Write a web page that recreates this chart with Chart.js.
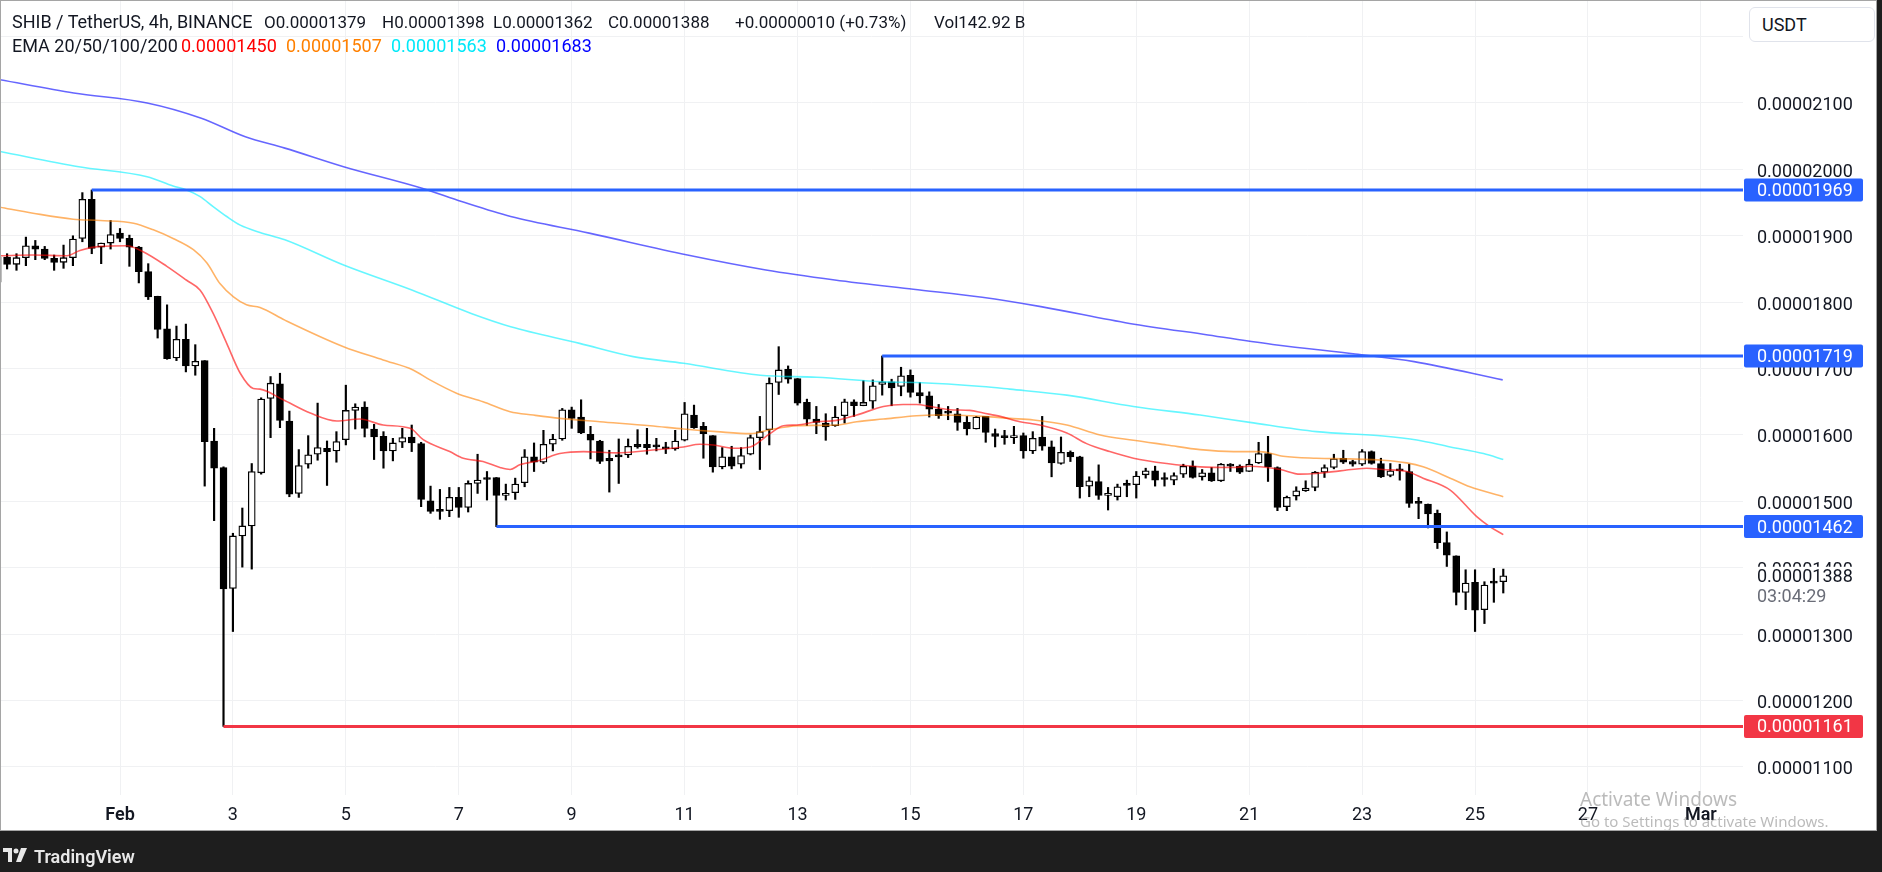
<!DOCTYPE html>
<html>
<head>
<meta charset="utf-8">
<script src="https://cdn.jsdelivr.net/npm/chart.js@4.4.1/dist/chart.umd.min.js"></script>
<style>
  html, body { margin: 0; padding: 0; width: 1882px; height: 872px; overflow: hidden; background: #1e1e1e; font-family: Roboto, sans-serif; }
  #panel { position: absolute; left: 0; top: 0; width: 1877px; height: 831px; background: #fff; }
  #chart { position: absolute; left: 0; top: 0; }
  #frame { position: absolute; left: 0; top: 0; width: 1877px; height: 831px; box-sizing: border-box; border: 1px solid #a5a5a5; pointer-events: none; }
  .hd { position: absolute; font-size: 18px; line-height: 22px; color: #131722; white-space: nowrap; }
  .sm { font-size: 17px; }
  #usdt { position: absolute; left: 1749px; top: 7px; width: 126px; height: 35px; box-sizing: border-box; border: 1px solid #e0e3eb; border-radius: 6px; background: #fff; font-size: 18px; line-height: 33px; color: #131722; padding-left: 12px; }
  #footer { position: absolute; left: 0; top: 831px; width: 1882px; height: 41px; background: #1e1e1e; }
  #tvText { position: absolute; left: 34px; top: 15px; color: #e8e8e8; font-size: 18px; font-weight: 600; line-height: 22px; }
  .win { position: absolute; color: rgba(120,120,120,0.5); font-family: "Noto Sans", sans-serif; white-space: nowrap; }
</style>
</head>
<body>
<div id="panel"></div>
<canvas id="chart" width="1877" height="831"></canvas>

<div class="hd" style="left:12px;top:11px">SHIB / TetherUS, 4h, BINANCE</div>
<div class="hd sm" style="left:264px;top:11px">O0.00001379</div>
<div class="hd sm" style="left:382px;top:11px">H0.00001398</div>
<div class="hd sm" style="left:493px;top:11px">L0.00001362</div>
<div class="hd sm" style="left:608px;top:11px">C0.00001388</div>
<div class="hd sm" style="left:735px;top:11px">+0.00000010 (+0.73%)</div>
<div class="hd sm" style="left:934px;top:11px">Vol142.92 B</div>
<div class="hd" style="left:12px;top:35px">EMA 20/50/100/200</div>
<div class="hd" style="left:181px;top:35px;color:#ff0000">0.00001450</div>
<div class="hd" style="left:286px;top:35px;color:#ff8000">0.00001507</div>
<div class="hd" style="left:391px;top:35px;color:#00e8f8">0.00001563</div>
<div class="hd" style="left:496px;top:35px;color:#0000ff">0.00001683</div>

<div id="usdt">USDT</div>

<div class="win" style="left:1580px;top:786px;font-size:19px">Activate Windows</div>
<div class="win" style="left:1580px;top:811px;font-size:15px">Go to Settings to activate Windows.</div>

<div id="frame"></div>
<div id="footer">
  <svg style="position:absolute;left:3px;top:17px" width="26" height="14" viewBox="0 0 26 14">
    <path d="M0 0h9v14H5V4H0z" fill="#e8e8e8"/>
    <circle cx="13" cy="3" r="2.5" fill="#e8e8e8"/>
    <path d="M18 0h6l-6 14h-5z" fill="#e8e8e8"/>
  </svg>
  <div id="tvText">TradingView</div>
</div>

<script>
// 4h candles, prices in units of 0.00000001 USDT, first bar = Jan 29 20:00
const FIRST_BAR = -1 - 1 / 6;   // day number, Feb 1 00:00 = 1
const BAR_DAYS = 1 / 6;

const opens = [1830,
  1868, 1857, 1867, 1885, 1880, 1866, 1860, 1867, 1896, 1955,
  1883, 1889, 1904, 1896, 1883, 1846, 1809, 1760, 1716, 1744,
  1704, 1712, 1591, 1551, 1369, 1448, 1463, 1543, 1655, 1677,
  1621, 1512, 1556, 1571, 1580, 1576, 1593, 1637, 1642, 1609,
  1598, 1576, 1589, 1597, 1587, 1501, 1487, 1486, 1506, 1491,
  1527, 1536, 1536, 1509, 1513, 1528, 1567, 1559, 1586, 1594,
  1638, 1627, 1601, 1591, 1565, 1570, 1570, 1586, 1586, 1583,
  1581, 1579, 1592, 1630, 1613, 1599, 1552, 1567, 1556, 1571,
  1596, 1608, 1679, 1699, 1685, 1649, 1624, 1618, 1614, 1629,
  1650, 1644, 1651, 1676, 1680, 1673, 1690, 1664, 1659, 1639,
  1635, 1632, 1619, 1609, 1628, 1602, 1598, 1596, 1599, 1576,
  1597, 1582, 1557, 1574, 1567, 1523, 1530, 1509, 1507, 1525,
  1525, 1540, 1546, 1535, 1532, 1541, 1553, 1537, 1543, 1531,
  1554, 1553, 1545, 1558, 1572, 1551, 1492, 1508, 1516, 1521,
  1544, 1551, 1565, 1560, 1556, 1575, 1557, 1539, 1547, 1545,
  1498, 1496, 1482, 1438, 1418, 1363, 1378, 1337, 1378, 1379];

const highs = [1872,
  1873, 1873, 1898, 1893, 1884, 1871, 1886, 1900, 1965, 1969,
  1889, 1923, 1911, 1901, 1884, 1858, 1809, 1796, 1764, 1767,
  1736, 1712, 1610, 1552, 1452, 1490, 1557, 1656, 1688, 1693,
  1636, 1578, 1599, 1648, 1591, 1605, 1675, 1647, 1650, 1616,
  1605, 1595, 1610, 1615, 1589, 1523, 1518, 1521, 1521, 1531,
  1571, 1545, 1536, 1526, 1535, 1578, 1588, 1607, 1601, 1640,
  1642, 1653, 1613, 1592, 1577, 1594, 1594, 1608, 1610, 1595,
  1589, 1607, 1649, 1645, 1619, 1599, 1581, 1583, 1581, 1600,
  1628, 1686, 1733, 1704, 1685, 1654, 1643, 1632, 1643, 1654,
  1653, 1682, 1683, 1719, 1684, 1702, 1698, 1679, 1665, 1646,
  1643, 1640, 1628, 1628, 1628, 1609, 1607, 1613, 1603, 1605,
  1628, 1591, 1597, 1576, 1568, 1537, 1555, 1521, 1526, 1532,
  1545, 1550, 1553, 1543, 1543, 1556, 1561, 1548, 1551, 1557,
  1557, 1555, 1563, 1589, 1598, 1552, 1508, 1522, 1531, 1545,
  1555, 1571, 1577, 1562, 1578, 1576, 1565, 1557, 1556, 1556,
  1506, 1496, 1487, 1454, 1418, 1397, 1397, 1379, 1399, 1398];

const lows = [1826,
  1850, 1848, 1855, 1864, 1864, 1848, 1851, 1855, 1891, 1873,
  1858, 1880, 1891, 1854, 1829, 1804, 1746, 1714, 1712, 1695,
  1690, 1523, 1471, 1161, 1304, 1401, 1398, 1541, 1596, 1611,
  1507, 1506, 1550, 1562, 1524, 1559, 1585, 1609, 1597, 1563,
  1550, 1561, 1581, 1575, 1492, 1482, 1473, 1477, 1476, 1484,
  1512, 1502, 1462, 1502, 1503, 1522, 1545, 1557, 1576, 1592,
  1610, 1602, 1564, 1557, 1514, 1527, 1566, 1580, 1571, 1576,
  1572, 1577, 1591, 1610, 1565, 1544, 1549, 1549, 1550, 1570,
  1548, 1585, 1661, 1678, 1645, 1614, 1602, 1592, 1613, 1618,
  1628, 1644, 1640, 1660, 1644, 1659, 1657, 1648, 1627, 1625,
  1623, 1607, 1600, 1609, 1589, 1582, 1586, 1587, 1565, 1572,
  1577, 1537, 1556, 1560, 1505, 1507, 1503, 1487, 1502, 1507,
  1505, 1535, 1523, 1523, 1525, 1536, 1535, 1532, 1530, 1530,
  1545, 1542, 1545, 1557, 1530, 1486, 1486, 1502, 1515, 1516,
  1536, 1549, 1557, 1553, 1554, 1556, 1536, 1537, 1532, 1491,
  1474, 1460, 1429, 1402, 1344, 1337, 1304, 1316, 1348, 1362];

const closes = [1868,
  1857, 1867, 1885, 1880, 1866, 1860, 1867, 1895, 1955, 1881,
  1889, 1902, 1896, 1883, 1846, 1808, 1759, 1715, 1744, 1704,
  1711, 1590, 1550, 1368, 1448, 1463, 1545, 1654, 1678, 1622,
  1511, 1554, 1570, 1581, 1575, 1590, 1637, 1642, 1610, 1597,
  1576, 1588, 1596, 1588, 1503, 1485, 1485, 1506, 1491, 1527,
  1532, 1533, 1509, 1512, 1526, 1567, 1559, 1586, 1594, 1638,
  1625, 1603, 1592, 1560, 1561, 1567, 1583, 1582, 1581, 1582,
  1579, 1591, 1632, 1611, 1602, 1552, 1567, 1553, 1569, 1596,
  1605, 1678, 1698, 1684, 1648, 1624, 1619, 1612, 1627, 1650,
  1644, 1649, 1674, 1680, 1671, 1689, 1664, 1659, 1639, 1629,
  1633, 1619, 1609, 1627, 1604, 1598, 1596, 1598, 1576, 1595,
  1583, 1558, 1574, 1567, 1522, 1531, 1509, 1510, 1522, 1524,
  1538, 1546, 1532, 1533, 1539, 1553, 1536, 1543, 1531, 1556,
  1553, 1544, 1556, 1572, 1552, 1491, 1506, 1516, 1520, 1544,
  1551, 1564, 1559, 1556, 1575, 1557, 1537, 1546, 1546, 1497,
  1497, 1481, 1438, 1419, 1363, 1377, 1336, 1374, 1377, 1388];

// EMA curves (day, value)
const ema20Days = [-1.125, -0.54, 0.06, 0.29, 0.65, 1.12, 1.41, 1.83, 2.18, 2.42, 2.65, 2.89, 3.13, 3.36, 3.48, 3.89, 4.37, 4.84, 5.25, 5.66, 6.14, 6.37, 6.84, 7.08, 7.43, 7.73, 7.91, 8.08, 8.44, 8.79, 9.21, 9.80, 10.39, 10.98, 11.27, 11.51, 11.86, 12.16, 12.51, 12.75, 12.99, 13.34, 13.69, 14.05, 14.52, 14.87, 15.11, 15.35, 15.70, 16.05, 16.29, 16.59, 16.94, 17.29, 17.77, 18.12, 18.53, 18.95, 19.54, 20.13, 20.72, 21.01, 21.55, 21.90, 22.19, 22.61, 23.08, 23.37, 23.79, 24.08, 24.56, 25.03, 25.26, 25.50];
const ema20 = [1870, 1871, 1870, 1878, 1884, 1885, 1876, 1854, 1833, 1818, 1783, 1738, 1693, 1670, 1669, 1653, 1633, 1621, 1624, 1615, 1610, 1593, 1575, 1565, 1560, 1551, 1548, 1555, 1562, 1572, 1575, 1573, 1577, 1582, 1586, 1585, 1580, 1582, 1602, 1614, 1615, 1620, 1622, 1630, 1643, 1646, 1646, 1643, 1638, 1637, 1633, 1628, 1620, 1615, 1603, 1587, 1575, 1565, 1557, 1552, 1551, 1553, 1548, 1541, 1542, 1546, 1550, 1548, 1545, 1535, 1517, 1477, 1462, 1450];

const ema50Days = [-1.125, -0.54, 0.17, 0.65, 1.24, 1.59, 1.94, 2.30, 2.54, 2.77, 3.01, 3.24, 3.48, 3.92, 4.96, 5.66, 6.19, 6.49, 6.96, 7.43, 7.91, 8.32, 8.79, 9.50, 10.39, 10.98, 11.57, 12.16, 12.51, 13.00, 13.34, 13.69, 14.05, 14.52, 15.11, 15.46, 16.29, 16.76, 17.18, 17.77, 18.36, 18.95, 19.54, 20.13, 20.72, 21.19, 21.60, 22.19, 22.78, 23.37, 23.79, 24.08, 24.56, 24.91, 25.50];
const ema50 = [1943, 1934, 1925, 1923, 1919, 1909, 1896, 1879, 1859, 1828, 1808, 1796, 1792, 1773, 1733, 1713, 1698, 1683, 1663, 1650, 1635, 1630, 1625, 1620, 1614, 1609, 1605, 1602, 1608, 1614, 1614.5, 1615, 1620, 1624, 1629, 1630, 1628, 1625, 1622.5, 1615, 1600, 1592, 1585, 1578, 1575, 1575, 1568, 1565, 1564, 1562, 1558, 1552, 1535, 1522, 1507];

const ema100Days = [-1.125, 0.27, 1.48, 1.94, 2.18, 2.42, 2.65, 2.89, 3.13, 3.48, 3.92, 4.96, 6.18, 7.22, 7.92, 9.14, 10.09, 10.98, 12.34, 13.34, 14.52, 15.11, 16.27, 16.76, 17.77, 18.95, 20.13, 21.01, 22.19, 23.37, 23.97, 24.56, 25.15, 25.50];
const ema100 = [2027, 2004, 1989, 1975, 1969, 1959, 1944, 1929, 1916, 1905, 1894, 1856, 1818, 1783, 1763, 1738, 1718, 1708, 1690, 1687, 1680, 1679, 1673, 1669, 1660, 1643, 1630, 1619, 1605, 1598.5, 1592.5, 1582, 1572, 1563];

const ema200Days = [-1.125, 0.18, 1.48, 2.44, 3.22, 3.92, 4.96, 6.35, 7.05, 7.92, 9.31, 11.05, 12.44, 13.66, 15.05, 16.27, 17.31, 18.88, 20.27, 21.49, 22.88, 23.92, 25.49];
const ema200 = [2135, 2115, 2100, 2077, 2049, 2032, 2004, 1971.5, 1951.5, 1929, 1904, 1871, 1848.5, 1833.5, 1819.4, 1807.4, 1793.3, 1768, 1750.7, 1735.6, 1722, 1710.5, 1683];

// horizontal levels: value, start day, colour
const levelValues = [1969, 1719, 1462, 1161];
const levelStarts = [0.5, 14.5, 7.667, 2.833];
const levelColors = ['#2962ff', '#2962ff', '#2962ff', '#f23645'];

const dayTicks = [1, 3, 5, 7, 9, 11, 13, 15, 17, 19, 21, 23, 25, 27, 29];
const priceTicks = [1100, 1200, 1300, 1400, 1500, 1600, 1700, 1800, 1900, 2000, 2100, 2200];
const hiddenPriceLabels = [2200];   // sits under the USDT button
const X_MIN = -1.1254, X_MAX = 29.746;
const Y_MIN = 1057.8, Y_MAX = 2255.1;
const lastClose = closes[closes.length - 1];
const countdown = '03:04:29';

const fmt = v => (v / 1e8).toFixed(8);
const barTimes = opens.map((_, i) => FIRST_BAR + i * BAR_DAYS);

function emaSet(days, vals, color) {
  return {
    type: 'line', data: days.map((d, i) => ({ x: d, y: vals[i] })),
    borderColor: color, borderWidth: 1.6, pointRadius: 0, cubicInterpolationMode: 'monotone', order: 1
  };
}

const tagPlugin = {
  id: 'tags',
  afterDraw(c) {
    const ctx = c.ctx, y = c.scales.y, left = c.chartArea.right + 1;
    ctx.save();
    ctx.font = '18px Roboto';
    ctx.textBaseline = 'middle';
    const py = y.getPixelForValue(lastClose);
    ctx.fillStyle = '#fff';
    ctx.fillRect(left, py - 9, 130, 40);
    ctx.fillStyle = '#131722';
    ctx.fillText(fmt(lastClose), 1757, py + 2);
    ctx.fillStyle = '#6a6d78';
    ctx.fillText(countdown, 1757, py + 22);
    levelValues.forEach((v, i) => {
      const ly = y.getPixelForValue(v);
      ctx.fillStyle = levelColors[i];
      ctx.beginPath();
      ctx.roundRect(left, ly - 11.5, 119, 23, 2);
      ctx.fill();
      ctx.fillStyle = '#fff';
      ctx.fillText(fmt(v), 1757, ly + 1.5);
    });
    ctx.restore();
  }
};

new Chart(document.getElementById('chart'), {
  type: 'bar',
  data: {
    datasets: [
      {
        label: 'wicks', data: barTimes.map((t, i) => ({ x: t, y: [lows[i], highs[i]] })),
        backgroundColor: '#000', barThickness: 1.5, grouped: false, order: 3
      },
      {
        label: 'bodies', data: barTimes.map((t, i) => ({ x: t, y: [opens[i], closes[i]] })),
        backgroundColor: closes.map((c, i) => c >= opens[i] ? '#ffffff' : '#000000'),
        borderColor: '#000', borderWidth: 1.3, borderSkipped: false,
        barThickness: 7, minBarLength: 2, grouped: false, order: 2
      },
      emaSet(ema20Days, ema20, 'rgba(255,0,0,0.6)'),
      emaSet(ema50Days, ema50, 'rgba(255,128,0,0.6)'),
      emaSet(ema100Days, ema100, 'rgba(0,240,255,0.6)'),
      emaSet(ema200Days, ema200, 'rgba(0,0,255,0.6)'),
      ...levelValues.map((v, i) => ({
        type: 'line', data: [{ x: levelStarts[i], y: v }, { x: X_MAX, y: v }],
        borderColor: levelColors[i], borderWidth: 3, pointRadius: 0, order: 0
      }))
    ]
  },
  options: {
    responsive: false, animation: false,
    layout: { padding: 0 },
    plugins: { legend: { display: false }, tooltip: { enabled: false } },
    scales: {
      x: {
        type: 'linear', min: X_MIN, max: X_MAX, offset: false,
        grid: { color: '#f0f1f3', drawTicks: false, offset: false },
        border: { display: false },
        afterBuildTicks: s => { s.ticks = dayTicks.map(v => ({ value: v })); },
        afterFit: s => { s.height = 36; s.paddingLeft = 0; s.paddingRight = 0; },
        ticks: {
          padding: 10, color: '#131722', maxRotation: 0, autoSkip: false,
          font: c => ({ family: 'Roboto', size: 18, weight: (c.tick && (c.tick.value === 1 || c.tick.value === 29)) ? '600' : '400' }),
          callback: v => v === 1 ? 'Feb' : v === 29 ? 'Mar' : String(v)
        }
      },
      y: {
        position: 'right', min: Y_MIN, max: Y_MAX,
        grid: { color: '#f0f1f3', drawTicks: false },
        border: { display: false },
        afterBuildTicks: s => { s.ticks = priceTicks.map(v => ({ value: v })); },
        afterFit: s => { s.width = 134; s.paddingTop = 0; s.paddingBottom = 0; },
        ticks: {
          padding: 14, crossAlign: 'near', labelOffset: 3,
          color: '#131722', font: { family: 'Roboto', size: 18 },
          callback: v => hiddenPriceLabels.includes(v) ? '' : fmt(v)
        }
      }
    }
  },
  plugins: [tagPlugin]
});
</script>
</body>
</html>
